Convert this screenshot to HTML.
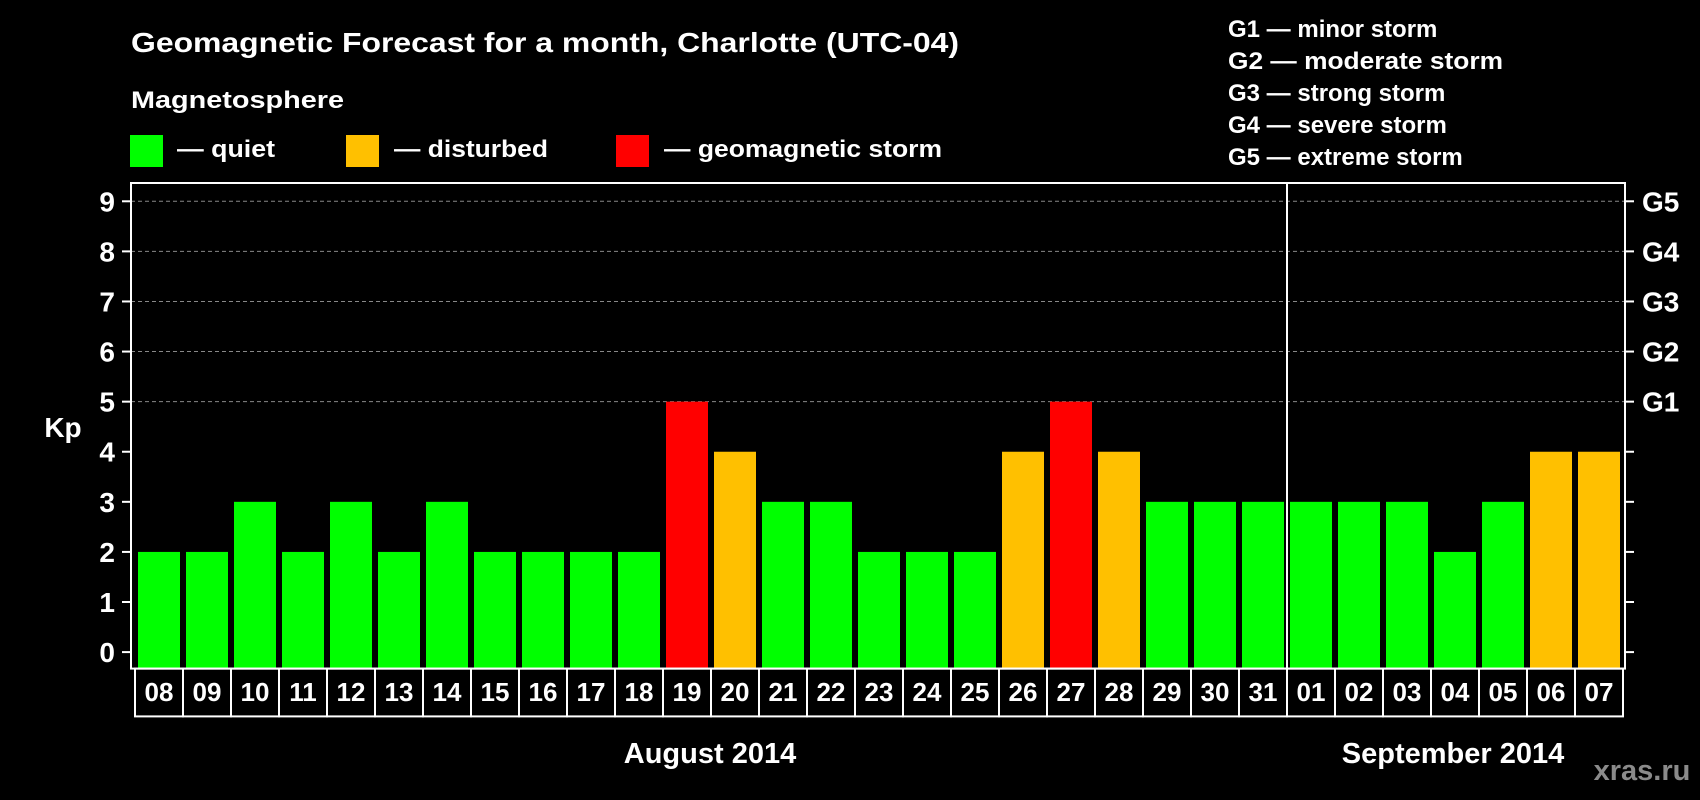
<!DOCTYPE html>
<html><head><meta charset="utf-8"><style>
html,body{margin:0;padding:0;background:#000;width:1700px;height:800px;overflow:hidden}
svg text{font-family:"Liberation Sans",sans-serif;font-weight:bold;fill:#fff}
</style></head><body>
<svg id="chart" width="1700" height="800" viewBox="0 0 1700 800" xmlns="http://www.w3.org/2000/svg">
<rect width="1700" height="800" fill="#000"/>
<text x="131" y="52" font-size="28" textLength="828" lengthAdjust="spacingAndGlyphs">Geomagnetic Forecast for a month, Charlotte (UTC-04)</text>
<text x="131" y="108" font-size="24" textLength="213" lengthAdjust="spacingAndGlyphs">Magnetosphere</text>
<rect x="130" y="135" width="33" height="32" fill="#00ff00"/>
<text x="177" y="157" font-size="24" textLength="98" lengthAdjust="spacingAndGlyphs">— quiet</text>
<rect x="346" y="135" width="33" height="32" fill="#ffc000"/>
<text x="394" y="157" font-size="24" textLength="154" lengthAdjust="spacingAndGlyphs">— disturbed</text>
<rect x="616" y="135" width="33" height="32" fill="#ff0000"/>
<text x="664" y="157" font-size="24" textLength="278" lengthAdjust="spacingAndGlyphs">— geomagnetic storm</text>
<g font-size="24">
<text x="1228" y="37">G1 — minor storm</text>
<text x="1228" y="69" textLength="275" lengthAdjust="spacingAndGlyphs">G2 — moderate storm</text>
<text x="1228" y="101">G3 — strong storm</text>
<text x="1228" y="133">G4 — severe storm</text>
<text x="1228" y="165">G5 — extreme storm</text>
</g>
<text x="63" y="437" font-size="28" text-anchor="middle">Kp</text>
<g id="plot"></g>
<text x="710" y="763" font-size="29" text-anchor="middle">August 2014</text>
<text x="1453" y="763" font-size="29" text-anchor="middle">September 2014</text>
<text x="1642" y="780" font-size="29" text-anchor="middle" style="fill:#8a8a8a">xras.ru</text>
</svg>
<script>
const days = ["08","09","10","11","12","13","14","15","16","17","18","19","20","21","22","23","24","25","26","27","28","29","30","31","01","02","03","04","05","06","07"];
const kpValues = [2,2,3,2,3,2,3,2,2,2,2,5,4,3,3,2,2,2,4,5,4,3,3,3,3,3,3,2,3,4,4];
const yTicks = [0,1,2,3,4,5,6,7,8,9];
const gLabels = ["G1","G2","G3","G4","G5"];
const gLevels = [5,6,7,8,9];
const monthSplitIndex = 24;

const NS = "http://www.w3.org/2000/svg";
const plot = document.getElementById("plot");
const L = 131, R = 1625, T = 183, B = 668.6;
const y = v => 652.1 - 50.09 * v;
const xStart = i => 135 + 48 * i;
function mk(tag, attrs){const e=document.createElementNS(NS,tag);for(const k in attrs)e.setAttribute(k,attrs[k]);plot.appendChild(e);return e;}

gLevels.forEach(v=>{
  const g = mk("line",{x1:L,x2:R,y1:y(v),y2:y(v),stroke:"#888","stroke-width":1,"stroke-dasharray":"4,3"});
  
  
});
kpValues.forEach((v,i)=>{
  const c = v>=5 ? "#ff0000" : (v>=4 ? "#ffc000" : "#00ff00");
  const b = mk("rect",{x:xStart(i)+3,y:y(v),width:42,height:B-y(v),fill:c});
  
  
  const box = mk("rect",{x:xStart(i),y:B,width:48,height:716.4-B,fill:"none",stroke:"#fff","stroke-width":2});
  
  
  const t = mk("text",{x:xStart(i)+24,y:701,"font-size":26,"text-anchor":"middle"});
  t.textContent = days[i];
  
  
});
const frame = mk("rect",{x:L,y:T,width:R-L,height:B-T,fill:"none",stroke:"#fff","stroke-width":2});


const div = mk("line",{x1:xStart(monthSplitIndex),x2:xStart(monthSplitIndex),y1:T,y2:716.4,stroke:"#fff","stroke-width":2});


yTicks.forEach(v=>{
  const a = mk("line",{x1:122,x2:L,y1:y(v),y2:y(v),stroke:"#fff","stroke-width":2});
  
  
  const b = mk("line",{x1:R,x2:1634,y1:y(v),y2:y(v),stroke:"#fff","stroke-width":2});
  
  
  const t = mk("text",{x:115,y:y(v)+10,"font-size":28,"text-anchor":"end"});
  t.textContent = yTicks[v];
  
  
});
gLevels.forEach((v,i)=>{
  const t = mk("text",{x:1642,y:y(v)+10,"font-size":28});
  t.textContent = gLabels[i];
  
  
});
</script>
</body></html>
